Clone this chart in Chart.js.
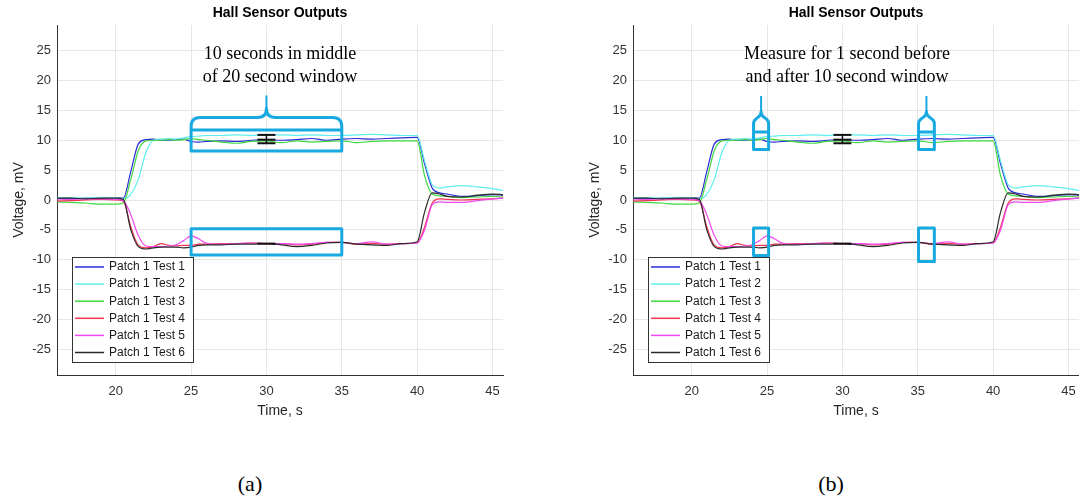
<!DOCTYPE html>
<html>
<head>
<meta charset="utf-8">
<title>Hall Sensor Outputs</title>
<script src="https://cdn.jsdelivr.net/npm/chart.js@4.4.1/dist/chart.umd.min.js"></script>
<style>
  html, body { margin: 0; padding: 0; background: #fff; }
  body { width: 1079px; height: 501px; position: relative; overflow: hidden; }
  .panel { position: absolute; top: 0; }
  .caption {
    position: absolute; top: 471px; transform: translateX(-50%);
    font: 22px 'Liberation Serif', 'Times New Roman', serif; color: #000;
  }
</style>
</head>
<body>
<div class="panel" style="left:0"><canvas id="chartA" width="540" height="430"></canvas></div>
<div class="panel" style="left:540px"><canvas id="chartB" width="539" height="430"></canvas></div>
<div class="caption" style="left:250px">(a)</div>
<div class="caption" style="left:831px">(b)</div>
<script>
// time base (s) shared by all six tests
const time = [16, 17, 18, 19, 20, 20.5, 21, 21.5, 22, 22.5, 23, 23.5, 24, 24.5, 25, 25.5,
  26, 27, 28, 29, 30, 31, 32, 33, 34, 35, 36, 37, 38, 39, 40, 40.5, 41, 41.5, 42, 43, 44, 45, 45.7];

// voltages in mV
const test1 = [0.3, 0.2, 0.3, 0.3, 0.4, 0.3, 4.8, 9.4, 10.1, 10.2, 10.0, 10.0, 10.1, 10.2, 9.8, 9.7,
  9.8, 9.9, 9.8, 10.0, 10.1, 10.0, 10.1, 10.3, 10.0, 10.2, 10.3, 10.2, 10.3, 10.4, 10.5, 6.0, 2.0, 1.2, 1.0, 0.6, 0.7, 0.9, 0.8];
const test2 = [0.4, 0.4, 0.3, 0.4, 0.4, 0.2, 1.0, 3.5, 8.0, 10.0, 10.2, 10.3, 10.2, 10.4, 10.6, 10.7,
  10.8, 10.8, 10.9, 10.8, 10.9, 10.9, 10.8, 10.9, 10.8, 10.8, 10.9, 11.0, 10.9, 10.8, 10.8, 6.5, 2.6, 2.0, 2.2, 2.4, 2.2, 1.9, 1.6];
const test3 = [-0.3, -0.4, -0.5, -0.7, -0.7, -0.5, 3.5, 8.3, 9.9, 10.0, 10.0, 10.1, 10.0, 10.1, 10.3, 10.1,
  10.0, 9.7, 9.5, 9.8, 9.9, 9.6, 9.9, 9.7, 9.8, 9.9, 9.6, 9.8, 9.9, 9.9, 9.9, 4.0, 1.0, 0.7, 0.6, 0.4, 0.5, 0.6, 0.5];
const test4 = [-0.2, -0.1, 0.0, 0.1, 0.0, -0.2, -4.5, -7.6, -8.0, -7.8, -7.3, -7.6, -7.7, -7.6, -7.6, -7.4,
  -7.4, -7.3, -7.3, -7.2, -7.3, -7.3, -7.5, -7.4, -7.1, -7.1, -7.4, -7.3, -7.4, -7.3, -7.2, -4.5, -0.5, 0.2, 0.1, 0.0, 0.1, 0.2, 0.3];
const test5 = [0.2, 0.1, 0.2, 0.2, 0.1, -0.1, -2.5, -6.0, -7.7, -7.8, -7.8, -7.7, -7.5, -6.8, -6.0, -6.5,
  -7.2, -7.4, -7.3, -7.2, -7.3, -7.3, -7.4, -7.3, -7.1, -7.1, -7.3, -7.0, -7.4, -7.3, -7.2, -5.0, -0.8, -0.3, -0.4, -0.4, -0.1, 0.2, 0.3];
const test6 = [0.3, 0.3, 0.2, 0.3, 0.3, 0.1, -5.0, -7.8, -8.2, -8.0, -7.9, -7.9, -7.9, -8.0, -7.9, -7.6,
  -7.5, -7.5, -7.4, -7.4, -7.3, -7.5, -7.8, -7.6, -7.2, -7.1, -7.4, -7.5, -7.6, -7.3, -7.0, -2.0, 1.2, 1.0, 0.6, 0.5, 0.8, 1.0, 0.9];

const seriesLabels = ['Patch 1 Test 1', 'Patch 1 Test 2', 'Patch 1 Test 3', 'Patch 1 Test 4', 'Patch 1 Test 5', 'Patch 1 Test 6'];
const seriesValues = [test1, test2, test3, test4, test5, test6];
const seriesColors = ['#2b2bd6', '#5eeeee', '#3ed83e', '#f23350', '#f048f0', '#2a2a2a'];

// mean markers at t = 30 s
const markTime = 30;
const upperMarks = [9.5, 10.1, 10.9];
const lowerMarks = [-7.3];

const xTicks = [20, 25, 30, 35, 40, 45];
const yTicks = [-25, -20, -15, -10, -5, 0, 5, 10, 15, 20, 25];

const boxColor = '#18a9e1';
const sans = "'Liberation Sans', Arial, sans-serif";

const notesA = {
  text: ['10 seconds in middle', 'of 20 second window'], textAt: [30.9, 24.4, 20.5],
  boxes: [[25, 35, 8.2, 11.7], [25, 35, -9.2, -4.8]],
  braces: [[25, 35, 11.7, 13.8, 17.5]],
  bulbs: []
};
const notesB = {
  text: ['Measure for 1 second before', 'and after 10 second window'], textAt: [30.3, 24.4, 20.5],
  boxes: [[24.1, 25.1, 8.45, 11.4], [35.05, 36.1, 8.45, 11.4], [24.1, 25.1, -9.3, -4.7], [35.05, 36.1, -10.3, -4.7]],
  braces: [],
  bulbs: [[24.1, 25.1, 11.4, 12.8, 14.8, 17.4], [35.05, 36.1, 11.4, 12.8, 14.8, 17.4]]
};

const notesPlugin = {
  id: 'notes',
  afterDatasetsDraw(chart, args, opts) {
    const { ctx } = chart;
    const px = v => chart.scales.x.getPixelForValue(v);
    const py = v => chart.scales.y.getPixelForValue(v);
    ctx.save();
    ctx.strokeStyle = boxColor;
    ctx.lineWidth = 3;
    ctx.lineJoin = 'round';
    opts.boxes.forEach(b => {
      ctx.strokeRect(px(b[0]), py(b[3]), px(b[1]) - px(b[0]), py(b[2]) - py(b[3]));
    });
    opts.braces.forEach(b => {
      const x0 = px(b[0]), x1 = px(b[1]), xm = (x0 + x1) / 2;
      const yb = py(b[2]), yh = py(b[3]), yt = py(b[4]);
      const r = 9;
      ctx.beginPath();
      ctx.moveTo(x0, yb);
      ctx.lineTo(x0, yh + r);
      ctx.quadraticCurveTo(x0, yh, x0 + r, yh);
      ctx.lineTo(xm - r, yh);
      ctx.quadraticCurveTo(xm, yh, xm, yh - r);
      ctx.quadraticCurveTo(xm, yh, xm + r, yh);
      ctx.lineTo(x1 - r, yh);
      ctx.quadraticCurveTo(x1, yh, x1, yh + r);
      ctx.lineTo(x1, yb);
      ctx.stroke();
      ctx.lineWidth = 2;
      ctx.beginPath();
      ctx.moveTo(xm, yh - r);
      ctx.lineTo(xm, yt);
      ctx.stroke();
      ctx.lineWidth = 3;
    });
    opts.bulbs.forEach(b => {
      const x0 = px(b[0]), x1 = px(b[1]), xm = (x0 + x1) / 2;
      const yb = py(b[2]), ys = py(b[3]), yn = py(b[4]), yt = py(b[5]);
      ctx.beginPath();
      ctx.moveTo(x0, yb);
      ctx.lineTo(x0, ys);
      ctx.bezierCurveTo(x0, ys - 7, xm, ys - 4, xm, yn);
      ctx.bezierCurveTo(xm, ys - 4, x1, ys - 7, x1, ys);
      ctx.lineTo(x1, yb);
      ctx.stroke();
      ctx.lineWidth = 2;
      ctx.beginPath();
      ctx.moveTo(xm, yn);
      ctx.lineTo(xm, yt);
      ctx.stroke();
      ctx.lineWidth = 3;
    });
    ctx.fillStyle = '#000';
    ctx.font = "18px 'Liberation Serif', 'Times New Roman', serif";
    ctx.textAlign = 'center';
    ctx.textBaseline = 'middle';
    ctx.fillText(opts.text[0], px(opts.textAt[0]), py(opts.textAt[1]));
    ctx.fillText(opts.text[1], px(opts.textAt[0]), py(opts.textAt[2]));
    ctx.restore();
  }
};

// legend box drawn inside the lower-left corner of the axes
const boxLegend = {
  id: 'boxLegend',
  afterDraw(chart) {
    const { ctx, chartArea } = chart;
    const left = chartArea.left + 15, top = chartArea.bottom - 118;
    const w = 121, h = 105, row = 17.1;
    ctx.save();
    ctx.fillStyle = '#fff';
    ctx.fillRect(left, top, w, h);
    ctx.strokeStyle = '#333';
    ctx.lineWidth = 1;
    ctx.strokeRect(left + 0.5, top + 0.5, w, h);
    ctx.font = '12px ' + sans;
    ctx.textBaseline = 'middle';
    ctx.textAlign = 'left';
    seriesLabels.forEach((label, i) => {
      const yy = top + 10 + i * row;
      ctx.strokeStyle = seriesColors[i];
      ctx.lineWidth = 1.5;
      ctx.beginPath();
      ctx.moveTo(left + 3, yy);
      ctx.lineTo(left + 32, yy);
      ctx.stroke();
      ctx.fillStyle = '#1a1a1a';
      ctx.fillText(label, left + 37, yy);
    });
    ctx.restore();
  }
};

function makeChart(id, padLeft, padRight, notes) {
  const datasets = seriesValues.map((vals, i) => ({
    label: seriesLabels[i],
    data: time.map((t, k) => ({ x: t, y: vals[k] })),
    borderColor: seriesColors[i],
    borderWidth: 1.2,
    pointRadius: 0,
    cubicInterpolationMode: 'monotone',
    order: -i
  }));
  datasets.push({
    label: 'mean',
    data: upperMarks.concat(lowerMarks).map(v => ({ x: markTime, y: v })),
    showLine: false,
    pointStyle: 'line',
    pointRadius: 9,
    borderColor: '#111',
    borderWidth: 2,
    order: -10
  });
  datasets.push({
    label: 'range',
    data: [{ x: markTime, y: Math.min(...upperMarks) }, { x: markTime, y: Math.max(...upperMarks) }],
    borderColor: '#111',
    borderWidth: 1.5,
    pointRadius: 0,
    order: -10
  });

  return new Chart(document.getElementById(id).getContext('2d'), {
    type: 'line',
    data: { datasets },
    options: {
      responsive: false,
      animation: false,
      layout: { autoPadding: false, padding: { left: padLeft, right: padRight, top: 0, bottom: 0 } },
      plugins: {
        legend: { display: false },
        tooltip: { enabled: false },
        title: {
          display: true,
          fullSize: false,
          text: 'Hall Sensor Outputs',
          color: '#000',
          font: { family: sans, size: 14, weight: 'bold' },
          padding: { top: 5, bottom: 3.2 }
        },
        notes
      },
      scales: {
        x: {
          type: 'linear',
          min: 16.1,
          max: 45.7,
          afterBuildTicks: axis => { axis.ticks = xTicks.map(v => ({ value: v })); },
          afterFit: axis => { axis.height = 55; axis.paddingLeft = 0; axis.paddingRight = 0; },
          grid: { color: '#e6e6e6', drawTicks: false },
          border: { color: '#333' },
          ticks: {
            padding: 9,
            color: '#333',
            maxRotation: 0,
            font: { family: sans, size: 13 }
          },
          title: {
            display: true,
            text: 'Time, s',
            color: '#262626',
            font: { family: sans, size: 14 },
            padding: { top: 0, bottom: 10 }
          }
        },
        y: {
          min: -29.3,
          max: 29.3,
          afterBuildTicks: axis => { axis.ticks = yTicks.map(v => ({ value: v })); },
          afterFit: axis => { axis.width = 57; },
          grid: { color: '#e6e6e6', drawTicks: false },
          border: { color: '#333' },
          ticks: {
            padding: 6,
            color: '#333',
            font: { family: sans, size: 13 }
          },
          title: {
            display: true,
            text: 'Voltage, mV',
            color: '#262626',
            font: { family: sans, size: 14 },
            padding: { top: 10.5, bottom: 0 }
          }
        }
      }
    },
    plugins: [notesPlugin, boxLegend]
  });
}

makeChart('chartA', 0, 37, notesA);
makeChart('chartB', 36, 0, notesB);
</script>
</body>
</html>
